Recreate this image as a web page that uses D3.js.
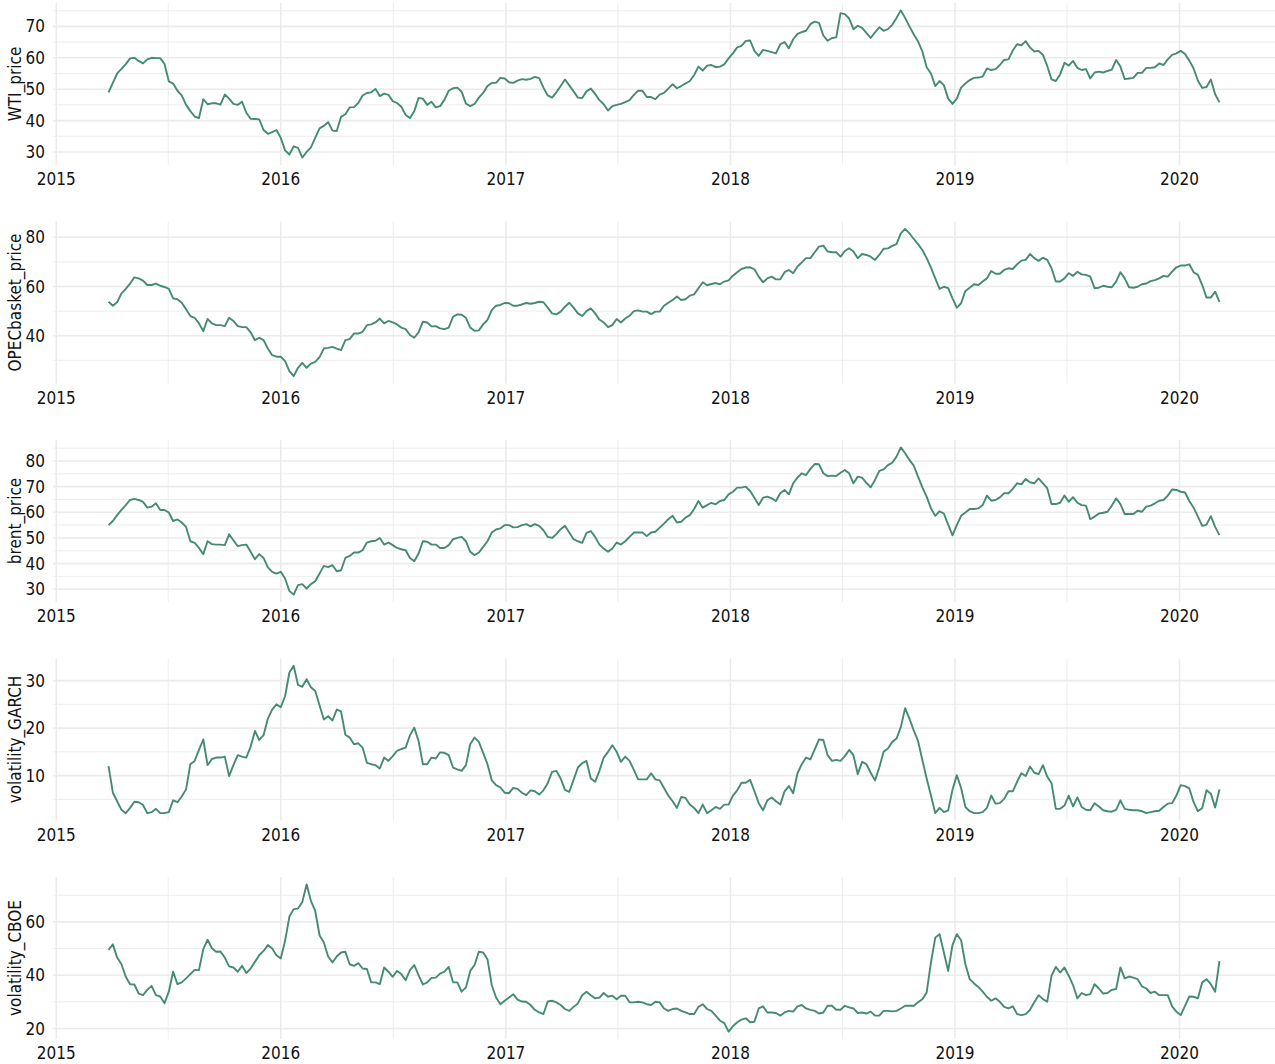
<!DOCTYPE html>
<html>
<head>
<meta charset="utf-8">
<script src="https://cdn.jsdelivr.net/npm/d3@7"></script>
<style>
  body { margin: 0; background: #fff; }
  text { font-family: "DejaVu Sans Condensed", "DejaVu Sans", sans-serif; font-stretch: condensed; }
</style>
</head>
<body>
<svg id="chart" width="1275" height="1064"></svg>
<script>
// weekly observations, first one on 2015-03-27
var startDate = new Date(2015, 2, 27);

var WTI_price = [
  49.0, 52.0, 55.0, 56.5, 58.0, 59.8, 60.0, 59.0, 58.2, 59.5,
  60.0, 59.9, 59.9, 58.0, 52.5, 51.8, 49.5, 48.0, 45.0, 43.0,
  41.3, 40.8, 46.8, 45.2, 45.5, 45.5, 45.1, 48.3, 47.0, 45.3,
  45.0, 46.0, 42.5, 40.6, 40.5, 40.4, 37.0, 35.8, 36.3, 37.0,
  34.5, 30.5, 29.2, 31.8, 31.3, 28.2, 30.0, 31.5, 34.5, 37.5,
  38.3, 39.5, 36.8, 36.7, 41.2, 42.0, 44.2, 44.3, 45.6, 48.0,
  48.8, 49.0, 50.1, 47.8, 48.6, 48.2, 46.2, 45.6, 44.4, 41.8,
  40.8, 43.0, 47.2, 47.0, 45.0, 46.0, 44.2, 44.6, 46.6, 49.5,
  50.3, 50.5, 49.2, 45.4, 44.6, 45.3, 47.3, 48.8, 51.0, 52.0,
  52.0, 53.6, 53.4, 52.2, 52.0, 52.7, 53.2, 53.0, 53.3, 53.9,
  53.5, 50.5, 48.0, 47.3, 49.0, 51.0, 53.1, 51.2, 49.3, 47.3,
  47.2, 49.3, 50.2, 48.5, 46.5, 45.2, 43.2, 44.6, 45.0, 45.3,
  45.9, 46.5, 48.2, 49.5,
  49.5, 47.5, 47.5, 46.8, 48.3, 48.8, 50.2, 51.6, 50.3, 51.0,
  51.8, 52.6, 54.5, 57.2, 55.9, 57.5, 57.7, 57.0, 57.2, 57.9,
  59.8, 61.4, 63.3, 63.8, 65.4, 65.5, 62.2, 60.6, 62.5, 62.2,
  61.8, 61.4, 64.3, 65.0, 63.0, 65.9, 67.6, 68.2, 68.6, 70.7,
  71.5, 71.1, 67.1, 65.4, 66.3, 66.5, 74.2, 73.9, 72.5, 69.1,
  70.2, 69.5, 67.9, 66.3, 68.1, 69.7, 68.6, 69.1, 70.5, 72.7,
  75.1, 72.7, 70.0, 67.5, 65.2, 62.0, 57.0, 55.0, 51.0, 52.6,
  51.3, 47.0, 45.3, 47.0, 50.5, 51.8, 52.9, 53.6, 53.7, 54.0,
  56.6, 56.1, 56.4, 57.7, 59.3, 59.5, 62.3, 64.3, 64.0, 65.3,
  63.3, 62.0, 62.2, 60.9, 57.4, 53.1, 52.6, 54.7, 58.4, 57.5,
  59.0, 56.8, 56.1, 56.4, 53.4, 55.3, 55.6, 55.3, 55.8, 56.2,
  59.3, 57.2, 53.2, 53.4, 53.6, 55.2, 55.2, 56.8, 56.8, 57.0,
  58.2, 57.7, 59.5, 60.9, 61.4, 62.2, 61.2, 59.1, 56.6, 52.7,
  50.4, 50.7, 53.1, 48.4, 45.8
];

var OPECbasket_price = [
  53.8, 52.2, 53.6, 57.2, 59.0, 61.2, 63.7, 63.3, 62.4, 60.6,
  60.6, 61.2, 60.3, 59.8, 59.0, 55.2, 54.8, 53.4, 50.8, 48.0,
  47.3, 45.0, 41.9, 46.8, 45.0, 44.3, 44.3, 43.9, 47.3, 46.0,
  43.9, 43.5, 43.5, 41.4, 38.2, 39.2, 38.2, 34.8, 32.1, 31.5,
  31.5, 29.7, 25.6, 23.6, 27.0, 29.0, 27.0, 28.7, 29.4, 31.3,
  34.8, 35.1, 35.5, 34.8, 34.2, 38.2, 38.6, 40.9, 40.9, 41.6,
  44.3, 44.6, 45.4, 47.0, 45.0, 46.0, 45.4, 44.6, 43.3, 42.7,
  40.3, 39.2, 41.4, 45.7, 45.4, 43.8, 43.9, 43.0, 42.7, 43.3,
  47.7, 48.7, 48.5, 47.3, 43.3, 42.0, 42.2, 44.6, 46.4, 50.4,
  52.2, 52.5, 53.3, 53.2, 52.2, 52.2, 52.7, 53.3, 53.0, 53.3,
  53.8, 53.6, 51.4, 49.1, 48.7, 49.8, 51.8, 53.4, 51.4, 49.1,
  48.0, 50.0, 51.1, 49.1, 46.6, 45.4, 43.5, 44.3, 46.8, 45.4,
  47.0, 48.1, 50.0, 50.3,
  49.8, 49.8, 48.8, 49.8, 49.8, 52.2, 53.4, 54.5, 55.9, 54.5,
  54.8, 56.3, 56.8, 59.3, 61.7, 60.5, 61.0, 61.4, 60.9, 62.0,
  62.5, 64.4, 65.8, 67.1, 67.7, 67.8, 67.0, 64.0, 61.7, 63.3,
  64.0, 62.9, 62.9, 65.8, 66.7, 65.4, 68.1, 69.8, 71.5, 71.5,
  73.9, 76.2, 76.6, 74.2, 73.9, 73.9, 72.1, 74.4, 75.5, 74.2,
  71.5, 73.2, 72.8, 72.1, 70.8, 72.8, 75.3, 75.5, 76.5, 77.2,
  81.6, 83.4, 81.6, 79.3, 77.2, 74.8, 71.5, 67.7, 63.3, 59.0,
  59.9, 59.3, 55.2, 51.4, 53.2, 58.2, 59.5, 60.9, 60.6, 62.0,
  63.3, 66.3, 65.2, 65.2, 66.7, 67.4, 67.1, 69.0, 70.5, 70.8,
  73.2, 71.5, 70.4, 71.7, 70.8, 67.4, 62.0, 62.0, 63.3, 65.4,
  64.3, 66.0, 64.9, 64.7, 64.0, 59.3, 59.5, 60.3, 59.9, 59.7,
  62.0, 65.8, 63.3, 59.7, 59.5, 59.9, 60.9, 61.2, 62.2, 62.6,
  63.3, 64.3, 64.0, 66.0, 67.8, 68.5, 68.5, 69.0, 65.8, 64.7,
  60.6, 55.5, 55.5, 57.9, 53.8
];

var brent_price = [
  55.0, 56.6, 58.9, 60.9, 62.8, 64.8, 65.2, 64.8, 64.1, 61.8,
  62.2, 63.5, 60.9, 60.9, 59.9, 56.6, 57.2, 56.0, 54.3, 48.7,
  48.1, 46.1, 43.7, 48.7, 47.6, 47.4, 47.4, 47.2, 51.4, 49.1,
  46.8, 47.2, 47.4, 44.6, 41.7, 43.7, 42.2, 38.5, 36.8, 36.1,
  36.8, 34.2, 29.3, 27.9, 31.6, 32.0, 30.3, 32.0, 33.1, 36.1,
  39.1, 38.6, 39.4, 37.0, 37.4, 42.2, 43.0, 44.3, 44.3, 45.2,
  48.2, 48.7, 48.9, 50.0, 47.4, 48.2, 47.2, 46.1, 45.6, 45.2,
  42.2, 40.9, 43.9, 48.7, 48.5, 47.4, 47.4, 46.1, 46.1, 47.2,
  49.5, 50.0, 50.4, 48.7, 44.6, 43.3, 44.3, 46.5, 48.7, 52.1,
  53.3, 53.7, 55.0, 55.0, 54.1, 54.2, 55.0, 55.4, 54.5, 55.4,
  54.7, 53.0, 50.4, 50.0, 51.5, 53.4, 54.7, 52.1, 49.5, 48.7,
  48.1, 52.0, 52.7, 50.4, 47.4, 45.9, 44.6, 45.9, 48.2, 47.4,
  48.7, 50.4, 52.1, 52.1,
  52.1, 50.7, 52.1, 52.4, 54.0, 55.6, 57.3, 58.6, 56.0, 56.3,
  57.9, 58.9, 61.3, 64.4, 61.8, 62.8, 63.7, 63.1, 64.4, 64.8,
  67.0, 68.0, 69.6, 69.6, 70.0, 68.3, 65.7, 62.8, 65.7, 66.1,
  65.4, 64.4, 67.4, 68.7, 67.0, 71.3, 73.5, 75.2, 74.5, 76.9,
  78.8, 78.7, 75.2, 74.1, 74.3, 74.1, 75.4, 76.5, 75.2, 71.3,
  73.9, 73.5, 71.5, 69.7, 72.6, 76.1, 76.7, 78.4, 79.3, 81.7,
  85.3, 83.0, 80.4, 78.2, 73.9, 69.7, 66.1, 61.5, 58.6, 60.4,
  59.5, 55.2, 51.0, 55.0, 58.6, 59.9, 61.3, 61.3, 61.5, 62.8,
  66.5, 64.5, 64.8, 65.8, 67.4, 67.4, 69.1, 71.3, 70.9, 73.0,
  71.7, 71.3, 73.2, 71.3, 69.4, 63.2, 63.2, 63.7, 66.5, 64.1,
  65.9, 63.7, 62.8, 62.6, 57.3, 58.3, 59.5, 59.8, 60.2, 62.6,
  65.4, 63.2, 59.3, 59.3, 59.3, 60.6, 60.2, 62.2, 62.6, 63.5,
  64.5, 64.8, 66.5, 68.9, 68.7, 68.0, 67.7, 64.4, 61.8, 58.3,
  54.7, 55.2, 58.5, 54.3, 51.1
];

var volatility_GARCH = [
  12.0, 6.4, 4.6, 2.8, 2.1, 3.2, 4.5, 4.4, 3.8, 2.1,
  2.3, 3.0, 2.1, 2.1, 2.3, 4.8, 4.4, 5.6, 7.1, 12.4,
  13.1, 15.4, 17.6, 12.2, 13.5, 13.8, 13.8, 14.0, 9.9, 12.2,
  14.3, 14.0, 13.8, 16.1, 19.4, 17.5, 18.5, 22.0, 23.9, 25.0,
  24.4, 26.7, 31.7, 33.1, 29.1, 28.7, 30.3, 28.6, 27.8, 24.8,
  21.8, 22.5, 21.6, 23.9, 23.5, 18.6, 18.0, 16.6, 16.8, 15.9,
  12.7, 12.4, 12.2, 11.5, 13.8, 13.1, 14.1, 15.2, 15.6, 15.9,
  18.5, 20.1, 17.3, 12.4, 12.4, 13.8, 13.6, 14.9, 14.8, 14.3,
  11.7, 11.3, 11.0, 12.2, 16.6, 18.0, 17.1, 14.8, 12.4, 9.0,
  8.0, 7.5, 6.4, 6.3, 7.4, 7.2, 6.4, 5.9, 6.9, 6.7,
  6.0, 6.9, 8.4, 10.8, 11.0, 9.4, 7.0, 6.6, 9.1, 11.7,
  12.6, 13.1, 9.4, 8.7, 11.0, 13.8, 15.0, 16.4, 15.0, 12.9,
  14.0, 13.1, 11.2, 9.2,
  9.2, 9.2, 10.5, 9.2, 9.0, 7.4, 5.8, 4.6, 3.2, 5.5,
  5.3, 3.9, 3.2, 2.1, 3.9, 2.1, 2.7, 3.4, 3.0, 3.9,
  3.9, 5.8, 6.9, 8.5, 8.5, 9.1, 6.7, 4.2, 2.7, 4.8,
  5.4, 4.6, 3.9, 6.7, 7.8, 6.3, 10.5, 12.4, 13.8, 13.4,
  15.5, 17.6, 17.5, 14.3, 13.1, 13.3, 13.1, 14.1, 15.4, 14.3,
  10.3, 12.9, 12.4, 10.6, 9.0, 11.7, 15.0, 15.7, 17.1, 17.8,
  20.2, 24.2, 22.0, 19.5, 17.3, 13.3, 9.4, 5.8, 2.1, 3.2,
  2.3, 2.7, 7.0, 10.1, 7.4, 3.4, 2.5, 2.1, 2.1, 2.3,
  3.2, 5.8, 4.1, 4.2, 5.1, 6.7, 6.7, 8.7, 10.5, 9.9,
  11.9, 10.6, 10.3, 12.2, 9.8, 8.4, 3.0, 3.0, 3.7, 5.8,
  3.5, 5.4, 3.4, 2.8, 2.7, 4.2, 3.5, 2.7, 2.5, 2.4,
  2.8, 4.8, 3.0, 2.8, 2.7, 2.7, 2.5, 2.1, 2.3, 2.5,
  2.6, 3.4, 4.1, 4.2, 5.8, 8.0, 7.8, 7.3, 4.4, 2.5,
  3.2, 6.9, 6.2, 3.3, 7.1
];

var volatility_CBOE = [
  49.5, 51.6, 46.6, 44.1, 39.4, 36.6, 36.5, 33.1, 32.5, 34.5,
  36.0, 32.5, 32.0, 29.5, 33.8, 41.3, 36.6, 37.3, 38.8, 40.4,
  42.0, 41.9, 49.8, 53.3, 50.1, 48.8, 48.9, 46.6, 43.3, 42.9,
  41.3, 43.5, 40.8, 42.5, 45.0, 47.5, 49.1, 51.3, 50.0, 47.5,
  46.3, 52.9, 62.0, 64.8, 65.0, 67.5, 74.1, 67.9, 64.1, 55.0,
  52.3, 47.0, 44.8, 47.0, 48.5, 48.8, 44.1, 43.5, 44.5, 42.5,
  42.3, 37.3, 37.3, 36.6, 42.9, 41.3, 39.4, 41.6, 40.4, 38.1,
  41.9, 43.8, 40.0, 36.5, 37.3, 39.0, 39.1, 40.6, 41.3, 43.1,
  37.3, 37.3, 33.8, 35.4, 41.6, 43.8, 48.8, 48.5, 46.0, 36.3,
  31.6, 29.1, 30.4, 31.6, 32.8, 30.8, 30.1, 30.0, 28.8, 27.0,
  26.0, 25.4, 30.1, 30.4, 29.8, 28.8, 27.3, 26.6, 28.1, 29.4,
  32.5, 33.8, 32.5, 31.3, 31.6, 33.3, 31.9, 32.3, 31.0, 32.3,
  32.3, 29.8, 29.8, 30.0,
  29.8, 29.1, 28.8, 30.0, 29.8, 27.5, 26.6, 27.3, 27.5, 26.6,
  26.0, 25.4, 25.4, 28.1, 29.1, 27.3, 26.6, 24.8, 22.9, 22.0,
  18.8, 20.8, 22.3, 23.3, 23.8, 22.3, 22.5, 27.5, 28.3, 26.0,
  26.0, 25.8, 24.8, 26.0, 26.6, 26.3, 28.3, 28.8, 27.5, 27.0,
  26.6, 25.6, 26.0, 28.5, 28.5, 27.0, 27.0, 28.5, 27.9, 27.5,
  25.8, 26.0, 25.6, 26.3, 24.8, 24.8, 26.6, 26.6, 26.4, 26.6,
  27.5, 28.5, 28.5, 28.5, 29.8, 31.0, 33.5, 44.8, 54.1, 55.4,
  48.5, 41.6, 51.3, 55.4, 53.1, 44.1, 38.5, 36.9, 35.6, 33.8,
  31.9, 30.4, 31.3, 30.0, 28.1, 27.5, 28.3, 25.4, 25.0, 25.4,
  27.0, 29.8, 32.5, 31.0, 30.0, 39.8, 43.1, 41.0, 42.9, 39.8,
  36.3, 31.3, 33.3, 32.5, 32.9, 36.6, 35.0, 33.1, 33.3, 34.5,
  34.8, 42.9, 38.8, 39.5, 39.1, 38.5, 35.8, 35.0, 33.3, 33.8,
  32.5, 32.5, 32.5, 28.3, 26.3, 25.0, 28.5, 32.0, 31.9, 31.3,
  37.3, 38.5, 36.6, 33.8, 45.3
];

var seriesNames = ["WTI_price", "OPECbasket_price", "brent_price", "volatility_GARCH", "volatility_CBOE"];
var seriesValues = [WTI_price, OPECbasket_price, brent_price, volatility_GARCH, volatility_CBOE];
var yTicks = [
  [30, 40, 50, 60, 70],
  [40, 60, 80],
  [30, 40, 50, 60, 70, 80],
  [10, 20, 30],
  [20, 40, 60]
];
var xTickYears = [2015, 2016, 2017, 2018, 2019, 2020];

var W = 1275, panelH = 162, panelStep = 218.5, top0 = 3;
var left = 53, right = 1275;
var lineColor = "#458B74", gridColor = "#ebebeb", textColor = "#111";

var svg = d3.select("#chart");
svg.append("rect").attr("width", W).attr("height", 1064).attr("fill", "#fff");

function padExtent(ext, frac) {
  var span = ext[1] - ext[0];
  return [ext[0] - span * frac, ext[1] + span * frac];
}

seriesNames.forEach(function(name, p) {
  var values = seriesValues[p];
  var data = values.map(function(v, i) {
    return {date: d3.timeDay.offset(startDate, 7 * i), value: v};
  });
  var top = top0 + p * panelStep, bottom = top + panelH;

  var xExt = d3.extent(data, function(d) { return d.date; });
  var xDom = padExtent([+xExt[0], +xExt[1]], 0.05);
  var x = d3.scaleTime()
      .domain([new Date(xDom[0]), new Date(xDom[1])])
      .range([left, right]);

  var y = d3.scaleLinear()
      .domain(padExtent(d3.extent(values), 0.05))
      .range([bottom, top]);

  var g = svg.append("g");

  // minor grid: half way between the major breaks
  var ticks = yTicks[p];
  var step = ticks[1] - ticks[0];
  var yMinor = [ticks[0] - step / 2].concat(ticks.map(function(t) { return t + step / 2; }))
      .filter(function(v) { return v >= y.domain()[0] && v <= y.domain()[1]; });
  var xMajor = xTickYears.map(function(yr) { return new Date(yr, 0, 1); });
  var xMinor = xTickYears.map(function(yr) { return new Date(yr, 6, 2); })
      .filter(function(d) { return d >= x.domain()[0] && d <= x.domain()[1]; });

  g.selectAll(".ymin").data(yMinor).enter().append("line")
      .attr("x1", left).attr("x2", right)
      .attr("y1", function(d) { return y(d); }).attr("y2", function(d) { return y(d); })
      .attr("stroke", gridColor).attr("stroke-width", 0.9);
  g.selectAll(".xmin").data(xMinor).enter().append("line")
      .attr("y1", top).attr("y2", bottom)
      .attr("x1", function(d) { return x(d); }).attr("x2", function(d) { return x(d); })
      .attr("stroke", gridColor).attr("stroke-width", 0.9);
  g.selectAll(".ymaj").data(ticks).enter().append("line")
      .attr("x1", left).attr("x2", right)
      .attr("y1", function(d) { return y(d); }).attr("y2", function(d) { return y(d); })
      .attr("stroke", gridColor).attr("stroke-width", 1.6);
  g.selectAll(".xmaj").data(xMajor).enter().append("line")
      .attr("y1", top).attr("y2", bottom)
      .attr("x1", function(d) { return x(d); }).attr("x2", function(d) { return x(d); })
      .attr("stroke", gridColor).attr("stroke-width", 1.6);

  var line = d3.line()
      .x(function(d) { return x(d.date); })
      .y(function(d) { return y(d.value); });
  g.append("path")
      .datum(data)
      .attr("d", line)
      .attr("fill", "none")
      .attr("stroke", lineColor)
      .attr("stroke-width", 1.9)
      .attr("stroke-linejoin", "round");

  // tick labels
  g.selectAll(".ylab").data(ticks).enter().append("text")
      .attr("x", 45).attr("y", function(d) { return y(d); })
      .attr("dy", "0.36em")
      .attr("text-anchor", "end")
      .attr("font-size", 17)
      .attr("fill", textColor)
      .text(function(d) { return d; });
  g.selectAll(".xlab").data(xMajor).enter().append("text")
      .attr("x", function(d) { return x(d); }).attr("y", bottom + 8)
      .attr("dy", "0.71em")
      .attr("text-anchor", "middle")
      .attr("font-size", 17)
      .attr("fill", textColor)
      .text(function(d) { return d3.timeFormat("%Y")(d); });

  g.append("text")
      .attr("transform", "translate(21," + ((top + bottom) / 2) + ") rotate(-90)")
      .attr("text-anchor", "middle")
      .attr("font-size", 17)
      .attr("fill", textColor)
      .text(name);
});
</script>
</body>
</html>
